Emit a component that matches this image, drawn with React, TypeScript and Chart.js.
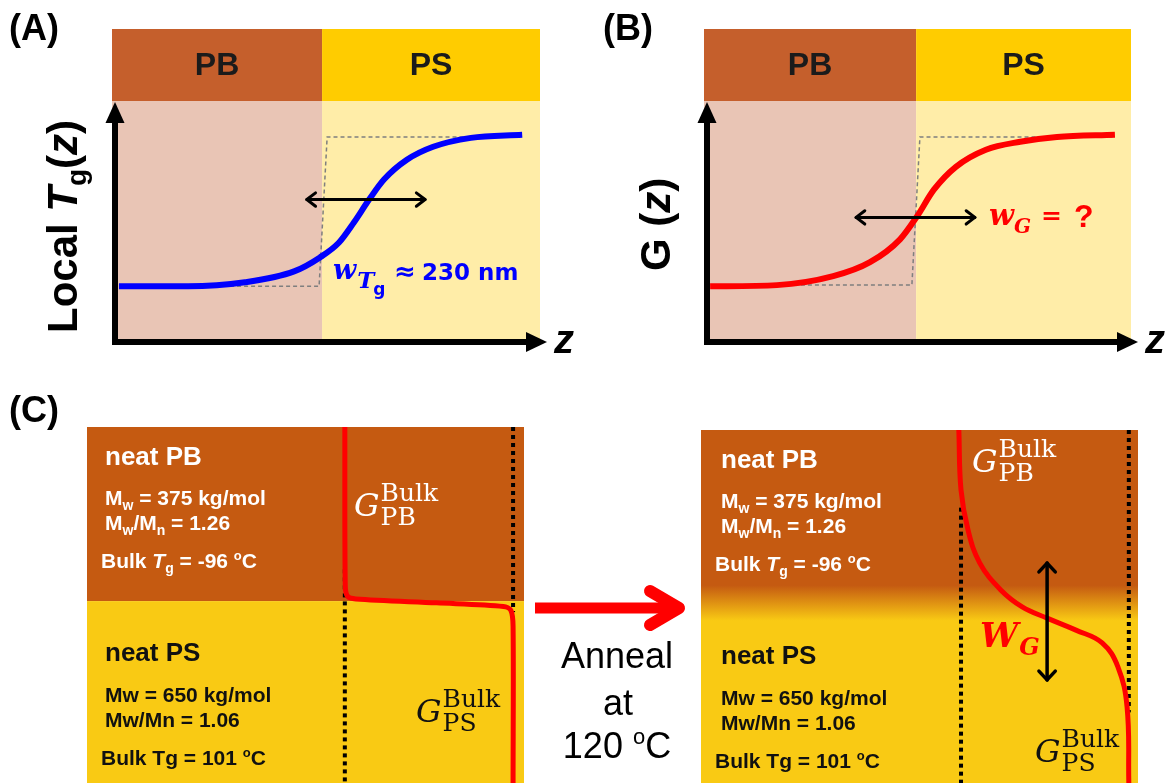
import React, { useEffect, useRef } from "react";
import { Chart, registerables } from "chart.js";
Chart.register(...registerables);

// ---------------- Data ----------------
// Panel A : local Tg(z) profile across the PB/PS interface (normalised units)
const zA = [0.7, 17, 30.4, 42, 48.1, 52.6, 56.1, 59.7, 63.2, 68.6, 74.8, 83.7, 95.8];
const tgA = [23.1, 23.1, 24.8, 29.3, 35.1, 41.3, 49.6, 59.1, 67.4, 75.6, 81.0, 84.7, 86.0];
const stepZA = [17, 47.9, 49.8, 95.3];
const stepTgA = [23.1, 23.1, 85.1, 85.1];
const widthArrowZA = [45, 72.9];
const widthArrowTgA = [59.1, 59.1];
const interfaceA = 48.6;

// Panel B : G(z) profile
const zB = [0.5, 16.3, 29.6, 38.3, 45.4, 49.4, 53.4, 58.6, 65.7, 73.8, 82.5, 96.2];
const gB = [23.1, 23.6, 27.3, 33.1, 42.6, 52.1, 63.2, 72.7, 79.8, 83.1, 85.1, 86.0];
const stepZB = [17, 48.2, 50.1, 96.2];
const stepGB = [23.6, 23.6, 85.1, 85.1];
const widthArrowZB = [35, 63.1];
const widthArrowGB = [51.7, 51.7];
const interfaceB = 49.2;

// Panel C : bilayer before annealing (G vs depth)
const gBefore = [59.0, 59.1, 59.6, 61.5, 80.0, 95.3, 97.0, 97.5, 97.5];
const depthBefore = [0, 44.5, 47.5, 48.3, 49.4, 50.4, 51.5, 56, 100];
const interfaceC = 48.9;
const bulkLinesBeforeG = [59.0, 97.5];
const bulkLinesBeforeDepth = [[40, 100], [0, 52]];

// Panel C : bilayer after annealing at 120 oC
const gAfter = [59.0, 59.5, 61.1, 63.8, 68.6, 73.5, 79.2, 85.8, 91.8, 95.4, 97.5, 97.9];
const depthAfter = [0, 17.0, 28.3, 37.7, 45.3, 50.1, 53.3, 56.7, 60.3, 67.1, 78.5, 100];
const bulkLinesAfterG = [59.5, 97.9];
const bulkLinesAfterDepth = [[22, 100], [0, 80]];
const wgArrowG = [79.2, 79.2];
const wgArrowDepth = [37.7, 70.8];
const blendDepth = [44, 54];

const headerLabels = ["PB", "PS"];
const panelLabels = ["(A)", "(B)", "(C)"];
const annealLines = ["Anneal", "at", "120 "];

// ---------------- Styles ----------------
const SANS = '"Liberation Sans", Arial, Helvetica, sans-serif';
const SERIF = '"DejaVu Serif", "Liberation Serif", serif';
const WIDE_SANS = '"DejaVu Sans", "Liberation Sans", sans-serif';
const PB_HEAD = "#C55F2C";
const PS_HEAD = "#FFCC00";
const PB_BG = "#E9C5B5";
const PS_BG = "#FFEDA8";
const PB_BOX = "#C55A11";
const PS_BOX = "#F9CA14";
const DARK = "#111111";

type Run = { t: string; size: number; bold?: boolean; italic?: boolean; dy?: number; dx?: number; fam?: string };
const fontOf = (r: Run) => `${r.italic ? "italic " : ""}${r.bold ? "bold " : ""}${r.size}px ${r.fam || SANS}`;

function runsWidth(ctx: CanvasRenderingContext2D, runs: Run[]) {
  let w = 0;
  for (const r of runs) {
    ctx.font = fontOf(r);
    w += ctx.measureText(r.t).width + (r.dx || 0);
  }
  return w;
}

function drawRuns(ctx: CanvasRenderingContext2D, x: number, y: number, runs: Run[], color: string) {
  ctx.fillStyle = color;
  ctx.textAlign = "left";
  ctx.textBaseline = "alphabetic";
  let cx = x;
  for (const r of runs) {
    ctx.font = fontOf(r);
    cx += r.dx || 0;
    ctx.fillText(r.t, cx, y + (r.dy || 0));
    cx += ctx.measureText(r.t).width;
  }
  return cx;
}

function chevron(ctx: CanvasRenderingContext2D, x: number, y: number, ang: number, size: number, spread = 0.65) {
  ctx.beginPath();
  ctx.moveTo(x - size * Math.cos(ang - spread), y - size * Math.sin(ang - spread));
  ctx.lineTo(x, y);
  ctx.lineTo(x - size * Math.cos(ang + spread), y - size * Math.sin(ang + spread));
  ctx.stroke();
}

function lineDs(xs: number[], ys: number[], color: string, width: number, extra: any = {}) {
  return {
    data: xs.map((x, i) => ({ x, y: ys[i] })),
    showLine: true,
    borderColor: color,
    backgroundColor: color,
    borderWidth: width,
    pointRadius: 0,
    pointHoverRadius: 0,
    fill: false,
    ...extra,
  };
}

function baseOptions(padding: any, reverseY: boolean): any {
  return {
    animation: false,
    responsive: false,
    maintainAspectRatio: false,
    devicePixelRatio: 1,
    events: [],
    layout: { padding },
    scales: {
      x: { type: "linear", min: 0, max: 100, display: false },
      y: { type: "linear", min: 0, max: 100, display: false, reverse: reverseY },
    },
    plugins: { legend: { display: false }, tooltip: { enabled: false } },
  };
}

// ---------------- Panels A & B ----------------
interface SigCfg {
  curveX: number[];
  curveY: number[];
  color: string;
  stepX: number[];
  stepY: number[];
  arrowX: number[];
  arrowY: number[];
  boundary: number;
  label: string;
  labelX: number;
  yTitle: Run[];
  yTitleOffset: number;
  yTitleStart: number;
  note: (ctx: CanvasRenderingContext2D, ca: any) => void;
  padding: any;
}

function buildSigmoid(canvas: HTMLCanvasElement, cfg: SigCfg) {
  const plugin = {
    id: "sigPanel",
    beforeDatasetsDraw(chart: any) {
      const { ctx, chartArea: ca } = chart;
      const bx = chart.scales.x.getPixelForValue(cfg.boundary);
      const l = ca.left - 4;
      const hTop = ca.top - 72;
      ctx.save();
      ctx.fillStyle = PB_HEAD;
      ctx.fillRect(l, hTop, bx - l, 72);
      ctx.fillStyle = PS_HEAD;
      ctx.fillRect(bx, hTop, ca.right - bx, 72);
      ctx.fillStyle = PB_BG;
      ctx.fillRect(l, ca.top, bx - l, ca.bottom - ca.top);
      ctx.fillStyle = PS_BG;
      ctx.fillRect(bx, ca.top, ca.right - bx, ca.bottom - ca.top);
      ctx.fillStyle = "#1b1b1b";
      ctx.font = `bold 32px ${SANS}`;
      ctx.textAlign = "center";
      ctx.textBaseline = "middle";
      ctx.fillText(headerLabels[0], (l + bx) / 2, hTop + 37);
      ctx.fillText(headerLabels[1], (bx + ca.right) / 2, hTop + 37);
      ctx.restore();
    },
    afterDatasetsDraw(chart: any) {
      const { ctx, chartArea: ca } = chart;
      const xs = chart.scales.x;
      const ys = chart.scales.y;
      ctx.save();
      ctx.fillStyle = "#000";
      // y axis with arrow
      ctx.fillRect(ca.left - 4, ca.top + 18, 6, ca.bottom + 3 - ca.top - 18);
      ctx.beginPath();
      ctx.moveTo(ca.left - 1, ca.top + 1);
      ctx.lineTo(ca.left + 8.5, ca.top + 22);
      ctx.lineTo(ca.left - 10.5, ca.top + 22);
      ctx.closePath();
      ctx.fill();
      // x axis with arrow
      ctx.fillRect(ca.left - 4, ca.bottom - 3, ca.right - 10 - (ca.left - 4), 6);
      ctx.beginPath();
      ctx.moveTo(ca.right + 7, ca.bottom);
      ctx.lineTo(ca.right - 14, ca.bottom - 10);
      ctx.lineTo(ca.right - 14, ca.bottom + 10);
      ctx.closePath();
      ctx.fill();
      ctx.font = `italic bold 40px ${SANS}`;
      ctx.textAlign = "left";
      ctx.textBaseline = "alphabetic";
      ctx.fillText("z", ca.right + 14, ca.bottom + 11);
      // width double arrow
      const ax0 = xs.getPixelForValue(cfg.arrowX[0]);
      const ax1 = xs.getPixelForValue(cfg.arrowX[1]);
      const ay = ys.getPixelForValue(cfg.arrowY[0]);
      ctx.strokeStyle = "#000";
      ctx.lineWidth = 3;
      ctx.lineCap = "round";
      ctx.lineJoin = "round";
      ctx.beginPath();
      ctx.moveTo(ax0, ay);
      ctx.lineTo(ax1, ay);
      ctx.stroke();
      chevron(ctx, ax1, ay, 0, 11);
      chevron(ctx, ax0, ay, Math.PI, 11);
      // panel label
      ctx.fillStyle = "#000";
      ctx.font = `bold 36px ${SANS}`;
      ctx.textBaseline = "middle";
      ctx.fillText(cfg.label, cfg.labelX, 30);
      // rotated y title
      ctx.save();
      ctx.translate(ca.left - cfg.yTitleOffset, cfg.yTitleStart);
      ctx.rotate(-Math.PI / 2);
      drawRuns(ctx, 0, 0, cfg.yTitle, "#000");
      ctx.restore();
      cfg.note(ctx, ca);
      ctx.restore();
    },
  };
  return new Chart(canvas, {
    type: "scatter",
    data: {
      datasets: [
        lineDs(cfg.curveX, cfg.curveY, cfg.color, 6, { cubicInterpolationMode: "monotone", order: 0, clip: false }),
        lineDs(cfg.stepX, cfg.stepY, "#7f7f7f", 1.5, { borderDash: [4, 3], order: 1, clip: false }),
      ],
    } as any,
    options: baseOptions(cfg.padding, false),
    plugins: [plugin],
  } as any);
}

// ---------------- Panel C helpers ----------------
const Bd = (t: string, size = 21, extra: Partial<Run> = {}): Run => ({ t, size, bold: true, ...extra });

function drawBoxTexts(ctx: CanvasRenderingContext2D, ca: any, dx: number) {
  const x0 = ca.left + dx;
  const xb = ca.left + 14;
  const t = ca.top;
  drawRuns(ctx, x0, t + 38, [Bd("neat PB", 26)], "#fff");
  drawRuns(ctx, x0, t + 78, [Bd("M"), Bd("w", 14, { dy: 5 }), Bd(" = 375 kg/mol")], "#fff");
  drawRuns(ctx, x0, t + 103, [Bd("M"), Bd("w", 14, { dy: 5 }), Bd("/M"), Bd("n", 14, { dy: 5 }), Bd(" = 1.26")], "#fff");
  drawRuns(ctx, xb, t + 141, [Bd("Bulk "), Bd("T", 21, { italic: true }), Bd("g", 14, { dy: 5 }), Bd(" = -96 "), Bd("o", 13, { dy: -8 }), Bd("C")], "#fff");
  drawRuns(ctx, x0, t + 234, [Bd("neat PS", 26)], DARK);
  drawRuns(ctx, x0, t + 275, [Bd("Mw = 650 kg/mol")], DARK);
  drawRuns(ctx, x0, t + 300, [Bd("Mw/Mn = 1.06")], DARK);
  drawRuns(ctx, xb, t + 338, [Bd("Bulk Tg = 101 "), Bd("o", 13, { dy: -8 }), Bd("C")], DARK);
}

function drawGBulk(ctx: CanvasRenderingContext2D, x: number, y: number, sub: string, color: string) {
  ctx.fillStyle = color;
  ctx.textAlign = "left";
  ctx.textBaseline = "alphabetic";
  ctx.font = `italic 32px ${SERIF}`;
  ctx.fillText("G", x, y);
  const w = ctx.measureText("G").width;
  ctx.font = `25px ${SERIF}`;
  ctx.fillText("Bulk", x + w + 1, y - 15);
  ctx.fillText(sub, x + w + 1, y + 9);
}

function dottedSets(gs: number[], depths: number[][]) {
  return gs.map((g, i) =>
    lineDs([g, g], depths[i], "#000", 4, { borderDash: [4, 4], order: 2 })
  );
}

function buildBefore(canvas: HTMLCanvasElement) {
  const plugin = {
    id: "before",
    beforeDatasetsDraw(chart: any) {
      const { ctx, chartArea: ca } = chart;
      const yb = chart.scales.y.getPixelForValue(interfaceC);
      ctx.save();
      ctx.fillStyle = PB_BOX;
      ctx.fillRect(ca.left, ca.top, ca.right - ca.left, yb - ca.top);
      ctx.fillStyle = PS_BOX;
      ctx.fillRect(ca.left, yb, ca.right - ca.left, ca.bottom - yb);
      ctx.restore();
    },
    afterDatasetsDraw(chart: any) {
      const { ctx, chartArea: ca } = chart;
      ctx.save();
      drawBoxTexts(ctx, ca, 18);
      drawGBulk(ctx, ca.left + 267, ca.top + 89, "PB", "#fff");
      drawGBulk(ctx, ca.left + 329, ca.top + 295, "PS", DARK);
      ctx.fillStyle = "#000";
      ctx.font = `bold 36px ${SANS}`;
      ctx.textAlign = "left";
      ctx.textBaseline = "middle";
      ctx.fillText(panelLabels[2], 9, 22);
      ctx.restore();
    },
  };
  return new Chart(canvas, {
    type: "scatter",
    data: {
      datasets: [
        lineDs(gBefore, depthBefore, "#FF0000", 5, { tension: 0.3, order: 0 }),
        ...dottedSets(bulkLinesBeforeG, bulkLinesBeforeDepth),
      ],
    } as any,
    options: baseOptions({ left: 87, top: 37, right: 6, bottom: 0 }, true),
    plugins: [plugin],
  } as any);
}

function buildAfter(canvas: HTMLCanvasElement) {
  const plugin = {
    id: "after",
    beforeDatasetsDraw(chart: any) {
      const { ctx, chartArea: ca } = chart;
      const ys = chart.scales.y;
      const h = ca.bottom - ca.top;
      const f0 = (ys.getPixelForValue(blendDepth[0]) - ca.top) / h;
      const f1 = (ys.getPixelForValue(blendDepth[1]) - ca.top) / h;
      const g = ctx.createLinearGradient(0, ca.top, 0, ca.bottom);
      g.addColorStop(0, PB_BOX);
      g.addColorStop(f0, PB_BOX);
      g.addColorStop(f1, PS_BOX);
      g.addColorStop(1, PS_BOX);
      ctx.save();
      ctx.fillStyle = g;
      ctx.fillRect(ca.left, ca.top, ca.right - ca.left, h);
      ctx.restore();
    },
    afterDatasetsDraw(chart: any) {
      const { ctx, chartArea: ca } = chart;
      const xs = chart.scales.x;
      const ys = chart.scales.y;
      ctx.save();
      drawBoxTexts(ctx, ca, 20);
      drawGBulk(ctx, ca.left + 271, ca.top + 42, "PB", "#fff");
      drawGBulk(ctx, ca.left + 334, ca.top + 332, "PS", DARK);
      // W_G label
      drawRuns(ctx, ca.left + 279, ca.top + 217, [
        { t: "W", size: 34, italic: true, bold: true, fam: SERIF },
        { t: "G", size: 24, italic: true, bold: true, fam: SERIF, dy: 8, dx: 1 },
      ], "#FF0000");
      // vertical double arrow
      const vx = xs.getPixelForValue(wgArrowG[0]);
      const vy0 = ys.getPixelForValue(wgArrowDepth[0]);
      const vy1 = ys.getPixelForValue(wgArrowDepth[1]);
      ctx.strokeStyle = "#000";
      ctx.lineWidth = 3.5;
      ctx.lineCap = "round";
      ctx.lineJoin = "round";
      ctx.beginPath();
      ctx.moveTo(vx, vy0);
      ctx.lineTo(vx, vy1);
      ctx.stroke();
      chevron(ctx, vx, vy0, -Math.PI / 2, 12, 0.75);
      chevron(ctx, vx, vy1, Math.PI / 2, 12, 0.75);
      // big red arrow between boxes
      ctx.strokeStyle = "#FF0000";
      ctx.lineWidth = 11;
      ctx.lineCap = "butt";
      ctx.beginPath();
      ctx.moveTo(5, 218);
      ctx.lineTo(144, 218);
      ctx.stroke();
      ctx.lineWidth = 12;
      ctx.lineCap = "round";
      ctx.lineJoin = "round";
      ctx.beginPath();
      ctx.moveTo(120, 201);
      ctx.lineTo(149, 218);
      ctx.lineTo(120, 235);
      ctx.stroke();
      // anneal text
      ctx.fillStyle = "#000";
      ctx.font = `36px ${SANS}`;
      ctx.textAlign = "center";
      ctx.textBaseline = "alphabetic";
      ctx.fillText(annealLines[0], 87, 278);
      ctx.fillText(annealLines[1], 88, 325);
      const tempRuns: Run[] = [
        { t: annealLines[2], size: 36 },
        { t: "o", size: 22, dy: -14 },
        { t: "C", size: 36 },
      ];
      const w = runsWidth(ctx, tempRuns);
      drawRuns(ctx, 87 - w / 2, 368, tempRuns, "#000");
      ctx.restore();
    },
  };
  return new Chart(canvas, {
    type: "scatter",
    data: {
      datasets: [
        lineDs(gAfter, depthAfter, "#FF0000", 5, { tension: 0.4, order: 0 }),
        ...dottedSets(bulkLinesAfterG, bulkLinesAfterDepth),
      ],
    } as any,
    options: baseOptions({ left: 171, top: 40, right: 38, bottom: 0 }, true),
    plugins: [plugin],
  } as any);
}

// ---------------- Components ----------------
function ChartCanvas(props: { left: number; top: number; width: number; height: number; build: (c: HTMLCanvasElement) => Chart }) {
  const ref = useRef<HTMLCanvasElement>(null);
  useEffect(() => {
    const chart = props.build(ref.current as HTMLCanvasElement);
    return () => chart.destroy();
  }, []);
  return (
    <canvas
      ref={ref}
      width={props.width}
      height={props.height}
      style={{ position: "absolute", left: props.left, top: props.top, width: props.width, height: props.height }}
    />
  );
}

const cfgA: SigCfg = {
  curveX: zA,
  curveY: tgA,
  color: "#0000FF",
  stepX: stepZA,
  stepY: stepTgA,
  arrowX: widthArrowZA,
  arrowY: widthArrowTgA,
  boundary: interfaceA,
  label: panelLabels[0],
  labelX: 9,
  yTitle: [
    { t: "Local ", size: 42, bold: true },
    { t: "T", size: 42, bold: true, italic: true },
    { t: "g", size: 28, bold: true, dy: 9 },
    { t: "(", size: 42, bold: true },
    { t: "z", size: 42, bold: true, italic: true },
    { t: ")", size: 42, bold: true },
  ],
  yTitleOffset: 39,
  yTitleStart: 333,
  padding: { left: 116, top: 101, right: 50, bottom: 48 },
  note: (ctx, ca) => {
    const y = ca.top + 178;
    drawRuns(ctx, ca.left + 217, y, [
      { t: "w", size: 27, bold: true, italic: true, fam: SERIF },
      { t: "T", size: 23, bold: true, italic: true, fam: SERIF, dy: 9, dx: 1 },
      { t: "g", size: 17, bold: true, fam: WIDE_SANS, dy: 16, dx: -1 },
    ], "#0000FF");
    drawRuns(ctx, ca.left + 278, y + 1, [{ t: "\u2248", size: 26, bold: true, fam: WIDE_SANS }], "#0000FF");
    drawRuns(ctx, ca.left + 306, y + 1, [{ t: "230 nm", size: 23, bold: true, fam: WIDE_SANS }], "#0000FF");
  },
};

const cfgB: SigCfg = {
  curveX: zB,
  curveY: gB,
  color: "#FF0000",
  stepX: stepZB,
  stepY: stepGB,
  arrowX: widthArrowZB,
  arrowY: widthArrowGB,
  boundary: interfaceB,
  label: panelLabels[1],
  labelX: 13,
  yTitle: [
    { t: "G (", size: 42, bold: true },
    { t: "z", size: 42, bold: true, italic: true },
    { t: ")", size: 42, bold: true },
  ],
  yTitleOffset: 38,
  yTitleStart: 271,
  padding: { left: 118, top: 101, right: 45, bottom: 48 },
  note: (ctx, ca) => {
    const y = ca.top + 124;
    drawRuns(ctx, ca.left + 281, y, [
      { t: "w", size: 29, bold: true, italic: true, fam: SERIF },
      { t: "G", size: 20, bold: true, italic: true, fam: SERIF, dy: 8 },
    ], "#FF0000");
    drawRuns(ctx, ca.left + 333, y - 1, [{ t: "=", size: 25, bold: true, fam: SERIF }], "#FF0000");
    drawRuns(ctx, ca.left + 366, y + 2, [{ t: "?", size: 32, bold: true, fam: SANS }], "#FF0000");
  },
};

export default function App() {
  return (
    <div style={{ position: "absolute", left: 0, top: 0, width: 1176, height: 783, background: "#fff", overflow: "hidden" }}>
      <ChartCanvas left={0} top={0} width={590} height={390} build={(c) => buildSigmoid(c, cfgA)} />
      <ChartCanvas left={590} top={0} width={586} height={390} build={(c) => buildSigmoid(c, cfgB)} />
      <ChartCanvas left={0} top={390} width={530} height={393} build={buildBefore} />
      <ChartCanvas left={530} top={390} width={646} height={393} build={buildAfter} />
    </div>
  );
}
